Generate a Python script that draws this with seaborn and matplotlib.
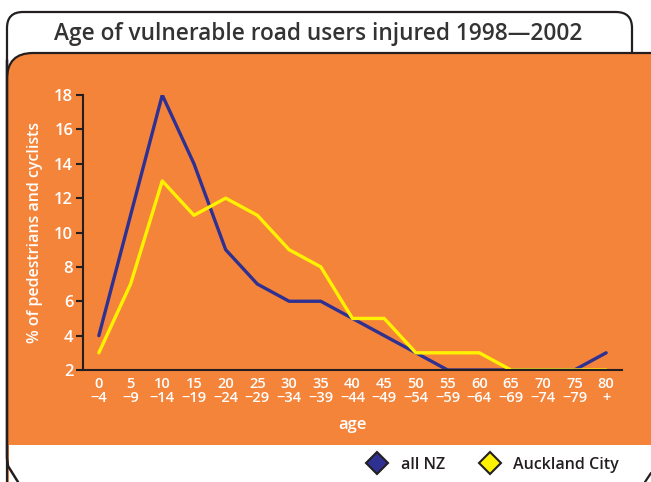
import numpy as np
import pandas as pd
import matplotlib
matplotlib.use("Agg")
import matplotlib.pyplot as plt
import seaborn as sns
from matplotlib.patches import FancyBboxPatch, Rectangle
from matplotlib.lines import Line2D

# -----------------------------
# DATA
# -----------------------------
age_groups = ["0-4", "5-9", "10-14", "15-19", "20-24", "25-29", "30-34", "35-39",
              "40-44", "45-49", "50-54", "55-59", "60-64", "65-69", "70-74", "75-79", "80+"]
tick_labels = ["0\n\u22124", "5\n\u22129", "10\n\u221214", "15\n\u221219", "20\n\u221224",
               "25\n\u221229", "30\n\u221234", "35\n\u221239", "40\n\u221244", "45\n\u221249",
               "50\n\u221254", "55\n\u221259", "60\n\u221264", "65\n\u221269", "70\n\u221274",
               "75\n\u221279", "80\n+"]
all_nz = [4, 11, 18, 14, 9, 7, 6, 6, 5, 4, 3, 2, 2, 2, 2, 2, 3]
auckland = [3, 7, 13, 11, 12, 11, 9, 8, 5, 5, 3, 3, 3, 2, 2, 2, 2]
y_ticks = [2, 4, 6, 8, 10, 12, 14, 16, 18]

df = pd.DataFrame({
    "age": age_groups * 2,
    "pct": all_nz + auckland,
    "group": ["all NZ"] * len(age_groups) + ["Auckland City"] * len(age_groups),
})

ORANGE = "#F5843B"
NAVY = "#2E3192"
YELLOW = "#FFF200"
DARK = "#231F20"

sns.set_style("white")
plt.rcParams["font.family"] = ["Open Sans", "DejaVu Sans"]

W, H = 651, 482
fig = plt.figure(figsize=(W / 100, H / 100), dpi=100)

# background drawn in pixel coordinates
bg = fig.add_axes([0, 0, 1, 1])
bg.set_xlim(0, W)
bg.set_ylim(H, 0)
bg.axis("off")

# title box
bg.add_patch(FancyBboxPatch((7, 12), 625, 80, boxstyle="round,pad=0,rounding_size=16",
                            facecolor="white", edgecolor=DARK, linewidth=1.6))
# orange panel
bg.add_patch(FancyBboxPatch((7, 53), 700, 480, boxstyle="round,pad=0,rounding_size=26",
                            facecolor=ORANGE, edgecolor=DARK, linewidth=1.6))
bg.add_patch(Rectangle((8.5, 445), 700, 60, facecolor="white", edgecolor="none"))
# outer frame left/bottom
bg.plot([7, 7, 8, 13, 18], [60, 458, 466, 474, 482], color=DARK, lw=1.8, solid_capstyle="round")
bg.plot([645, 651], [482, 473], color=DARK, lw=1.6)

bg.text(318, 34, "Age of vulnerable road users injured 1998\u20142002", ha="center", va="center",
        fontsize=16.3, fontweight="semibold", color="#333333")

# -----------------------------
# MAIN CHART
# -----------------------------
ax = fig.add_axes([83 / W, 1 - 370 / H, 539 / W, 275 / H])
ax.patch.set_alpha(0)
sns.lineplot(data=df, x="age", y="pct", hue="group", palette=[NAVY, YELLOW],
             linewidth=2.4, ax=ax, legend=False, sort=False)

ax.set_xlim(-0.5, len(age_groups) - 0.5)
ax.set_ylim(2, 18)
ax.set_yticks(y_ticks)
ax.set_xticks(range(len(age_groups)))
ax.set_xticklabels(tick_labels, linespacing=1.0)
ax.set_xticks(np.arange(-0.5, len(age_groups)), minor=True)
ax.tick_params(axis="x", which="major", length=0, pad=5, labelsize=10.5, labelcolor="white")
ax.tick_params(axis="x", which="minor", length=5, width=1.5, color=DARK, direction="out")
ax.tick_params(axis="y", length=5, width=1.5, color=DARK, direction="out", left=True,
               pad=2, labelsize=12, labelcolor="white")
for lab in ax.get_xticklabels() + ax.get_yticklabels():
    lab.set_fontweight("semibold")

for s in ["top", "right"]:
    ax.spines[s].set_visible(False)
for s in ["left", "bottom"]:
    ax.spines[s].set_color(DARK)
    ax.spines[s].set_linewidth(1.5)

ax.set_xlabel("age", color="white", fontsize=12, fontweight="semibold", labelpad=9)
ax.set_ylabel("% of pedestrians and cyclists", color="white", fontsize=11.5,
              fontweight="semibold", labelpad=8)

# legend
handles = [Line2D([], [], linestyle="none", marker="D", markersize=11, markerfacecolor=c,
                  markeredgecolor=DARK, markeredgewidth=1.5) for c in [NAVY, YELLOW]]
fig.legend(handles, ["all NZ", "Auckland City"], ncol=2, frameon=False,
           loc="center", bbox_to_anchor=(490 / W, 1 - 465 / H),
           prop={"size": 11.5, "weight": "semibold"}, handletextpad=0.5, columnspacing=1.8,
           labelcolor=DARK)

fig.savefig("out.png", dpi=100)
